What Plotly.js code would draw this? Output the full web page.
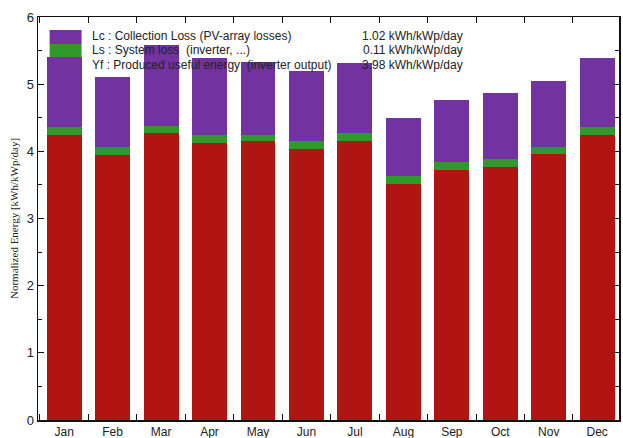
<!DOCTYPE html>
<html>
<head>
<meta charset="utf-8">
<script src="https://cdn.plot.ly/plotly-3.0.1.min.js"></script>
<style>html,body{margin:0;padding:0;background:#fff;}#chart{width:623px;height:438px;}</style>
</head>
<body>
<div id="chart"></div>
<script>
const months = ["Jan","Feb","Mar","Apr","May","Jun","Jul","Aug","Sep","Oct","Nov","Dec"];
const yf = [4.24,3.95,4.27,4.12,4.15,4.04,4.15,3.51,3.72,3.76,3.96,4.24];
const ls = [0.12,0.11,0.11,0.12,0.10,0.12,0.12,0.12,0.12,0.12,0.11,0.12];
const lc = [1.05,1.05,1.20,1.15,1.08,1.04,1.05,0.87,0.93,0.99,0.97,1.03];
const legendNames = ["Lc : Collection Loss (PV-array losses)","Ls : System loss  (inverter, ...)","Yf : Produced useful energy  (inverter output)"];
const legendValues = ["1.02 kWh/kWp/day","0.11 kWh/kWp/day","3.98 kWh/kWp/day"];
const colors = {yf:"#b01512", ls:"#2f9a2a", lc:"#7232a0"};

const traces = [
  {type:"bar", x:months, y:yf, marker:{color:colors.yf}, name:legendNames[2], width:0.72, hoverinfo:"y"},
  {type:"bar", x:months, y:ls, marker:{color:colors.ls}, name:legendNames[1], width:0.72, hoverinfo:"y"},
  {type:"bar", x:months, y:lc, marker:{color:colors.lc}, name:legendNames[0], width:0.72, hoverinfo:"y"}
];

const swColors = [colors.lc, colors.ls, colors.yf];
const shapes = [];
const annotations = [];
for (let i = 0; i < 3; i++) {
  shapes.push({type:"rect", xref:"paper", yref:"paper", layer:"below",
    x0:0.02, x1:0.075, y0:0.968 - (i+1)*0.035, y1:0.968 - i*0.035,
    line:{width:0}, fillcolor:swColors[i]});
  annotations.push({xref:"paper", yref:"paper", x:0.09, y:0.952 - i*0.035, xanchor:"left", yanchor:"middle",
    text:legendNames[i], showarrow:false, font:{family:"Liberation Sans, Arial", size:12, color:"#222"}});
  annotations.push({xref:"paper", yref:"paper", x:0.735, y:0.952 - i*0.035, xanchor:"right", yanchor:"middle",
    text:legendValues[i], showarrow:false, font:{family:"Liberation Sans, Arial", size:12, color:"#222"}});
}

const layout = {
  width:623, height:438,
  margin:{l:38, r:4, t:17, b:18},
  barmode:"stack",
  showlegend:false,
  paper_bgcolor:"#fff", plot_bgcolor:"#fff",
  font:{family:"Liberation Sans, Arial", color:"#222"},
  xaxis:{type:"category", range:[-0.54, 11.45], tickson:"boundaries", ticks:"inside", ticklen:6, tickwidth:1,
    tickcolor:"#111", showline:true, linecolor:"#111", linewidth:1.5, mirror:"ticks", showgrid:false,
    tickfont:{size:12, color:"#222"}, zeroline:false},
  yaxis:{range:[0,6], dtick:1, ticks:"inside", ticklen:6, tickcolor:"#111", showline:true, linecolor:"#111",
    linewidth:1.5, mirror:"ticks", showgrid:false, zeroline:false, tickfont:{size:13, color:"#222"},
    minor:{ticks:"inside", dtick:0.5, ticklen:4, tickcolor:"#111"},
    title:{text:"Normalized Energy [kWh/kWp/day]", font:{family:"Liberation Serif, Times New Roman", size:11, color:"#222"}, standoff:6}},
  shapes:shapes,
  annotations:annotations
};

Plotly.newPlot("chart", traces, layout, {displayModeBar:false, staticPlot:true});
</script>
</body>
</html>
